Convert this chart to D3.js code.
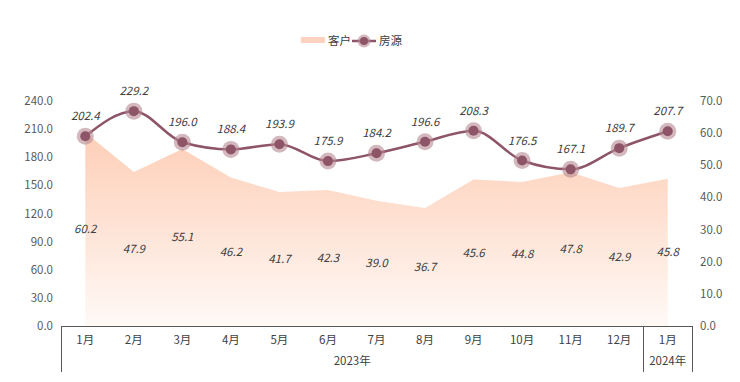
<!DOCTYPE html>
<html><head><meta charset="utf-8">
<script src="https://cdn.jsdelivr.net/npm/d3@7"></script>
<style>
html,body{margin:0;padding:0;background:#fff;}
svg{display:block;font-family:"Noto Sans CJK SC","Noto Sans",sans-serif;}
</style></head>
<body><svg id="c" width="740" height="382"></svg>
<script>
const months = ["1月","2月","3月","4月","5月","6月","7月","8月","9月","10月","11月","12月","1月"];
const years = [{label:"2023年", from:0, to:12},{label:"2024年", from:12, to:13}];
const customers = [60.2,47.9,55.1,46.2,41.7,42.3,39.0,36.7,45.6,44.8,47.8,42.9,45.8];
const listings = [202.4,229.2,196.0,188.4,193.9,175.9,184.2,196.6,208.3,176.5,167.1,189.7,207.7];
const leftTicks = [0,30,60,90,120,150,180,210,240];
const rightTicks = [0,10,20,30,40,50,60,70];
const seriesNames = ["客户","房源"];

const svg = d3.select("#c");
const L = 61, R = 692, T = 101, B = 326;
const x = d3.scaleBand().domain(d3.range(months.length)).range([L,R]);
const cx = i => x(i) + x.bandwidth()/2;
const yL = d3.scaleLinear().domain([0,240]).range([B,T]);
const yR = d3.scaleLinear().domain([0,70]).range([B,T]);

const defs = svg.append("defs");
const g = defs.append("linearGradient").attr("id","ag").attr("x1",0).attr("y1",0).attr("x2",0).attr("y2",1)
  .attr("gradientUnits","userSpaceOnUse").attr("x1",0).attr("x2",0).attr("y1",yR(62)).attr("y2",B);
g.append("stop").attr("offset","0%").attr("stop-color","#fdcdb5");
g.append("stop").attr("offset","100%").attr("stop-color","#fff9f6");
const lg = defs.append("linearGradient").attr("id","lg");
lg.append("stop").attr("offset","0%").attr("stop-color","#fdd3c0");
lg.append("stop").attr("offset","100%").attr("stop-color","#fdd3c0");

// axes labels
const axTxt = "#595959";
svg.append("g").selectAll("text").data(leftTicks).join("text")
  .attr("x",53).attr("y",d=>yL(d)).attr("dy","0.35em").attr("text-anchor","end")
  .attr("font-size",11.5).attr("fill",axTxt).text(d=>d.toFixed(1));
svg.append("g").selectAll("text").data(rightTicks).join("text")
  .attr("x",700).attr("y",d=>yR(d)).attr("dy","0.35em").attr("text-anchor","start")
  .attr("font-size",11.5).attr("fill",axTxt).text(d=>d.toFixed(1));

// area
const area = d3.area().x((d,i)=>cx(i)).y0(B).y1(d=>yR(d));
svg.append("path").datum(customers).attr("d",area).attr("fill","url(#ag)");

// area labels
svg.append("g").selectAll("text").data(customers).join("text")
  .attr("x",(d,i)=>cx(i)).attr("y",d=>yR(d/2)).attr("dy","0.35em").attr("text-anchor","middle")
  .attr("font-size",11.5).attr("font-style","italic").attr("fill","#404040").text(d=>d.toFixed(1));

// x axis
const ax = svg.append("g").attr("stroke","#595959").attr("stroke-width",1).attr("fill","none");
ax.append("line").attr("x1",L).attr("x2",R).attr("y1",B+0.5).attr("y2",B+0.5);
const seps = [0, 12, 13];
ax.selectAll("line.s").data(seps).join("line").attr("class","s")
  .attr("x1",d=>Math.round(x(d===13?12:d)+(d===13?x.bandwidth():0))+0.5)
  .attr("x2",d=>Math.round(x(d===13?12:d)+(d===13?x.bandwidth():0))+0.5)
  .attr("y1",B).attr("y2",372);
svg.append("g").selectAll("text").data(months).join("text")
  .attr("x",(d,i)=>cx(i)).attr("y",340).attr("dy","0.35em").attr("text-anchor","middle")
  .attr("font-size",11.5).attr("fill","#404040").text(d=>d);
svg.append("g").selectAll("text").data(years).join("text")
  .attr("x",d=>(x(d.from)+x(d.to-1)+x.bandwidth())/2).attr("y",361).attr("dy","0.35em").attr("text-anchor","middle")
  .attr("font-size",11.5).attr("fill","#404040").text(d=>d.label);

// line
const lineC = "#8e5468";
const line = d3.line().x((d,i)=>cx(i)).y(d=>yL(d)).curve(d3.curveMonotoneX);
svg.append("path").datum(listings).attr("d",line).attr("fill","none").attr("stroke",lineC).attr("stroke-width",2.5);
const pts = svg.append("g").selectAll("g").data(listings).join("g")
  .attr("transform",(d,i)=>`translate(${cx(i)},${yL(d)})`);
pts.append("circle").attr("r",8.5).attr("fill","#b58893").attr("opacity",0.6);
pts.append("circle").attr("r",5).attr("fill",lineC);
svg.append("g").selectAll("text").data(listings).join("text")
  .attr("x",(d,i)=>cx(i)).attr("y",d=>yL(d)-16).attr("text-anchor","middle")
  .attr("font-size",11.5).attr("font-style","italic").attr("fill","#404040").text(d=>d.toFixed(1));

// legend
const leg = svg.append("g");
leg.append("rect").attr("x",301).attr("y",37).attr("width",24).attr("height",6).attr("fill","url(#lg)");
leg.append("text").attr("x",328).attr("y",41).attr("dy","0.35em").attr("font-size",11.5).attr("fill","#404040").text(seriesNames[0]);
leg.append("line").attr("x1",352).attr("x2",376).attr("y1",41).attr("y2",41).attr("stroke",lineC).attr("stroke-width",2.5);
leg.append("circle").attr("cx",364).attr("cy",41).attr("r",6.5).attr("fill","#b58893").attr("opacity",0.6);
leg.append("circle").attr("cx",364).attr("cy",41).attr("r",4).attr("fill",lineC);
leg.append("text").attr("x",379).attr("y",41).attr("dy","0.35em").attr("font-size",11.5).attr("fill","#404040").text(seriesNames[1]);
</script></body></html>
